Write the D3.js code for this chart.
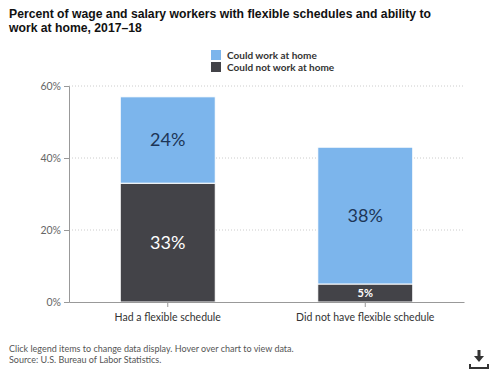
<!DOCTYPE html>
<html lang="en">
<meta charset="utf-8">
<style>
  body { margin: 0; background: #fff; }
  svg { display: block; font-family: Lato, "Open Sans", sans-serif; }
</style>
<body>
<svg width="500" height="371"></svg>
<script src="https://d3js.org/d3.v7.min.js"></script>
<script>
const categories = ['Had a flexible schedule', 'Did not have flexible schedule']
const seriesNames = ['Could work at home', 'Could not work at home']
const couldWork = [24, 38]
const couldNotWork = [33, 5]
const yTicks = [0, 20, 40, 60]

const colors = { 'Could work at home': '#7cb5ec', 'Could not work at home': '#434348' }

const svg = d3.select('svg')

// title
svg.append('text')
  .attr('x', 9).attr('y', 18)
  .attr('font-family', '"Liberation Sans", Arial, sans-serif')
  .attr('font-weight', 'bold').attr('font-size', 12.2).attr('fill', '#111')
  .selectAll('tspan')
  .data(['Percent of wage and salary workers with flexible schedules and ability to', 'work at home, 2017\u201318'])
  .join('tspan')
  .attr('x', 9).attr('dy', (d, i) => i ? 14 : 0)
  .text(d => d)

// legend
const legend = svg.append('g')
  .selectAll('g').data(seriesNames).join('g')
  .attr('transform', (d, i) => `translate(211,${50 + i * 12})`)
legend.append('rect').attr('width', 10).attr('height', 10).attr('fill', d => colors[d])
legend.append('text').attr('x', 16).attr('y', 9)
  .attr('font-size', 10).attr('font-weight', 700).attr('fill', '#333')
  .text(d => d)

const x = d3.scaleBand().domain(categories).range([69, 464]).paddingInner(0.04).paddingOuter(0.02)
const y = d3.scaleLinear().domain([0, 60]).range([302, 86])

// grid
svg.append('g').selectAll('line').data(yTicks.slice(1)).join('line')
  .attr('x1', 69).attr('x2', 464)
  .attr('y1', d => y(d)).attr('y2', d => y(d))
  .attr('stroke', '#ccc').attr('stroke-dasharray', '1,2')

// y axis
const yAxis = svg.append('g').attr('transform', 'translate(69,0)')
  .call(d3.axisLeft(y).tickValues(yTicks).tickFormat(d => d + '%').tickSize(5))
yAxis.select('.domain').attr('stroke', '#999')
yAxis.selectAll('.tick line').attr('stroke', '#999')
yAxis.selectAll('.tick text').attr('font-size', 10.5).attr('fill', '#666')
  .attr('font-family', 'Lato, sans-serif')

// stacked bars: "could not" at the bottom
const stack = d3.stack().keys(seriesNames.slice().reverse())
const rows = categories.map((c, i) => ({ cat: c, 'Could work at home': couldWork[i], 'Could not work at home': couldNotWork[i] }))
const series = stack(rows)
const barW = 95
svg.append('g').selectAll('g').data(series).join('g')
  .attr('fill', d => colors[d.key])
  .selectAll('rect').data(d => d).join('rect')
  .attr('x', d => x(d.data.cat) + x.bandwidth() / 2 - barW / 2)
  .attr('width', barW)
  .attr('y', d => y(d[1]))
  .attr('height', d => y(d[0]) - y(d[1]))
  .attr('stroke', '#fff').attr('stroke-width', 1)

// bar labels
series.forEach(s => {
  svg.append('g').selectAll('text').data(s).join('text')
    .attr('x', d => x(d.data.cat) + x.bandwidth() / 2)
    .attr('y', d => (y(d[0]) + y(d[1])) / 2)
    .attr('dy', '0.36em')
    .attr('text-anchor', 'middle')
    .attr('font-size', d => (d[1] - d[0]) < 10 ? 11 : 18)
    .attr('font-weight', d => (d[1] - d[0]) < 10 ? 700 : 400)
    .attr('fill', s.key === 'Could work at home' ? '#1d3557' : '#fff')
    .text(d => (d[1] - d[0]) + '%')
})

// x axis
const xAxis = svg.append('g').attr('transform', 'translate(0,302)')
  .call(d3.axisBottom(x).tickSize(5).tickSizeOuter(0))
xAxis.select('.domain').attr('stroke', '#999')
xAxis.selectAll('.tick line').attr('stroke', '#999')
xAxis.selectAll('.tick text').attr('font-size', 10.5).attr('fill', '#333').attr('dy', '1em')
  .attr('font-family', 'Lato, sans-serif')

// footnote
svg.append('g').selectAll('text')
  .data(['Click legend items to change data display. Hover over chart to view data.', 'Source: U.S. Bureau of Labor Statistics.'])
  .join('text')
  .attr('x', 9).attr('y', (d, i) => 352 + i * 11)
  .attr('font-size', 9).attr('fill', '#555')
  .text(d => d)

// download icon
const icon = svg.append('g').attr('transform', 'translate(479,350)').attr('fill', '#333')
icon.append('rect').attr('x', -1.5).attr('y', 0).attr('width', 3).attr('height', 7)
icon.append('path').attr('d', 'M-5,6 L5,6 L0,12 Z')
icon.append('path').attr('d', 'M-9,14 v4 h18 v-4').attr('fill', 'none').attr('stroke', '#333').attr('stroke-width', 2)
</script>
</body>
</html>
